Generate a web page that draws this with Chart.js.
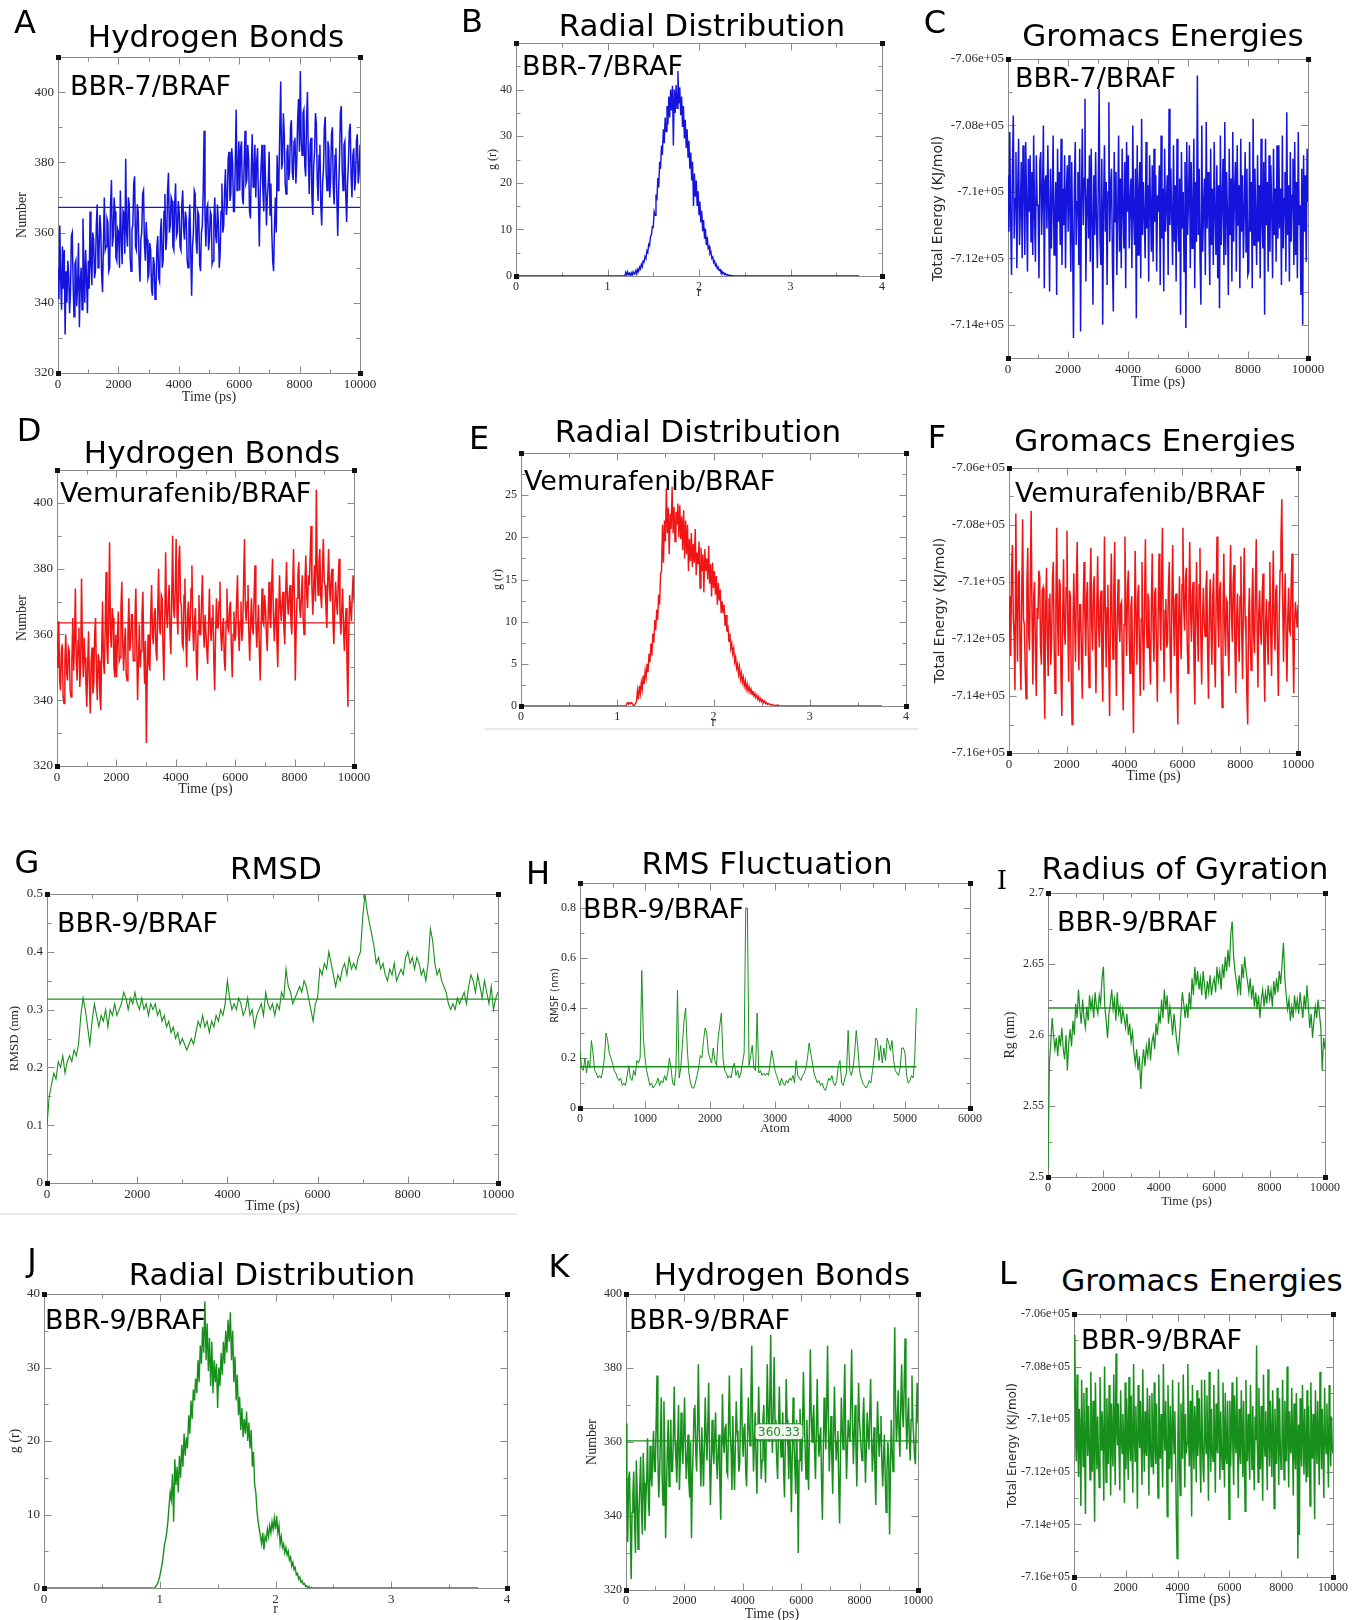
<!DOCTYPE html>
<html>
<head>
<meta charset="utf-8">
<script src="https://cdn.jsdelivr.net/npm/chart.js@4/dist/chart.umd.min.js"></script>
<style>
  body { margin: 0; background: #fff; width: 1365px; height: 1620px; position: relative; overflow: hidden;
         font-family: "DejaVu Sans", Verdana, sans-serif; }
  canvas { position: absolute; }
  .txt { position: absolute; white-space: nowrap; line-height: 1; color: #000; }
  .title { font-size: 31px; transform: translate(-50%, -50%); }
  .letter { font-size: 32px; transform: translate(-50%, -50%); }
  .inner { font-size: 27px; transform: translateY(-50%); }
  .sep { position: absolute; height: 2px; background: #e8e8e8; }
</style>
</head>
<body>
<div class="sep" style="left:485px;top:728px;width:433px"></div>
<div class="sep" style="left:0px;top:1213px;width:517px"></div>
<script>
// ---- tick labels ----
const timeTicks = [0, 2000, 4000, 6000, 8000, 10000];
const rTicks = [0, 1, 2, 3, 4];
const atomTicks = [0, 1000, 2000, 3000, 4000, 5000, 6000];
const hbondTicks = [320, 340, 360, 380, 400];
const energyTicksC = [-714000, -712000, -710000, -708000, -706000];
const energyTicks = [-716000, -714000, -712000, -710000, -708000, -706000];
const rdfTicks40 = [0, 10, 20, 30, 40];
const rdfTicksE = [0, 5, 10, 15, 20, 25];
const rmsdTicks = [0, 0.1, 0.2, 0.3, 0.4, 0.5];
const rmsfTicks = [0, 0.2, 0.4, 0.6, 0.8];
const rgTicks = [2.5, 2.55, 2.6, 2.65, 2.7];

// ---- series ----
// A: hydrogen bonds BBR-7/BRAF, 0-10000 ps
const hbondsBBR7 = [
  350, 341, 362, 347, 338, 356, 344, 355, 331, 349, 340, 352, 348, 337, 343, 359, 360, 345, 336, 351, 352, 339, 345, 357, 333, 346, 350, 338, 364, 351, 340, 355, 347, 337,
  352, 344, 366, 351, 345, 360, 358, 347, 349, 362, 368, 350, 354, 365, 361, 348, 343, 357, 370, 355, 356, 364, 363, 349, 350, 368, 375, 356, 359, 370, 366, 353, 352, 361,
  360, 350, 372, 359, 351, 366, 365, 354, 381, 360, 356, 370, 368, 353, 349, 361, 362, 374, 376, 356, 355, 368, 366, 352, 346, 358, 360, 371, 372, 357, 352, 363, 358, 347,
  348, 357, 355, 344, 342, 353, 351, 341, 343, 356, 359, 347, 346, 360, 364, 350, 352, 366, 371, 355, 358, 372, 377, 360, 362, 370, 369, 356, 355, 368, 374, 359, 360, 369,
  366, 356, 355, 368, 372, 361, 358, 366, 364, 352, 350, 363, 368, 355, 342, 356, 360, 372, 371, 358, 354, 366, 365, 351, 349, 360, 362, 372, 389, 365, 356, 367, 368, 355,
  358, 366, 365, 351, 352, 364, 370, 359, 357, 368, 363, 350, 354, 366, 374, 360, 362, 372, 378, 365, 368, 381, 383, 369, 371, 384, 380, 366, 366, 380, 395, 372, 378, 386,
  372, 384, 386, 370, 368, 380, 389, 374, 375, 385, 381, 366, 364, 378, 388, 373, 377, 385, 370, 380, 384, 369, 356, 372, 379, 385, 372, 366, 385, 374, 362, 370, 374, 383,
  365, 374, 360, 352, 349, 362, 370, 360, 382, 372, 376, 390, 403, 378, 380, 394, 388, 374, 371, 383, 385, 375, 378, 390, 392, 377, 375, 386, 387, 374, 380, 392, 398, 383,
  406, 386, 382, 394, 395, 379, 376, 392, 400, 381, 371, 385, 387, 370, 365, 379, 383, 394, 391, 375, 369, 382, 385, 368, 362, 374, 378, 390, 393, 377, 372, 386, 384, 370,
  375, 388, 390, 373, 368, 382, 384, 370, 359, 372, 381, 394, 396, 378, 372, 385, 386, 371, 363, 374, 380, 389, 391, 376, 370, 382, 384, 372, 375, 386, 388, 374, 377, 385
];
const meanBBR7 = 367.2;

// B: g(r) BBR-7/BRAF, r from 1.15 in 0.01 steps
const rdfStartB = 1.15;
const rdfBBR7 = [
  0, 0, 0, 0, 0,
  0.8, 0.2, 0.9, 0.3, 0.6, 0.1, 0.7, 0.2, 0.9, 0.4,
  0.6, 1.2, 0.5, 1.4, 1.0, 1.9, 1.5, 2.5, 2.0, 3.2,
  3.0, 4.2, 3.8, 5.4, 5.0, 6.8, 6.5, 8.5, 8.8, 10.6,
  10.5, 13.8, 13.0, 17.5, 16.2, 21.0, 19.0, 24.5, 23.0, 28.0,
  26.0, 31.5, 28.5, 34.0, 31.0, 36.5, 32.5, 38.5, 34.0, 40.0,
  35.5, 40.8, 28.0, 40.0, 35.0, 41.0, 36.0, 44.0, 37.0, 40.5,
  34.5, 38.5, 32.0, 36.5, 29.5, 33.5, 27.5, 31.5, 25.5, 29.0,
  23.0, 26.5, 20.5, 24.5, 15.0, 22.0, 17.0, 20.5, 15.0, 18.2,
  13.2, 16.0, 11.5, 14.0, 9.6, 12.0, 8.0, 10.2, 6.6, 8.4,
  6.0, 6.4, 4.8, 5.2, 3.8, 4.1, 2.9, 3.2, 2.2, 2.5,
  1.6, 1.9, 1.2, 1.4, 0.8, 1.0, 0.5, 0.7, 0.3, 0.5,
  0.2, 0.3, 0.1, 0.2, 0.1, 0.1, 0, 0.1, 0, 0,
  0, 0, 0, 0, 0, 0, 0, 0, 0, 0, 0
];
const rdfEnd = 3.75;

// C: total energy BBR-7/BRAF
const energyBBR7 = [
  -709500, -711200, -708200, -710800, -712500, -709300, -707700, -711400, -710200, -708800, -712300, -709900, -708400, -711600, -710500, -709100, -712000, -708600, -709800, -711900, -708500, -710300, -712400, -709000, -710600, -708900, -711500, -709400, -711900, -708300, -710700, -712100, -708900, -710400,
  -710400, -712600, -709100, -708800, -711300, -710100, -708000, -712900, -709700, -709500, -711100, -708600, -710500, -713000, -709300, -711700, -710200, -708300, -711900, -710800, -709700, -713100, -708700, -710900, -709400, -711600, -708400, -712200, -709900, -711000, -708900, -712300, -710000, -709200,
  -711200, -708900, -710600, -712400, -709100, -711500, -714400, -709800, -708500, -711600, -710300, -709400, -712200, -708700, -714200, -710100, -708100, -711000, -709600, -707200, -712700, -710400, -709600, -711400, -708900, -712100, -708700, -710800, -713400, -709500, -711300, -708800, -710900, -712300,
  -709800, -706900, -711500, -712200, -709000, -714000, -710400, -708600, -711200, -709700, -712800, -710000, -707300, -711500, -709800, -709300, -712100, -713600, -708800, -710900, -709400, -712500, -710600, -708300, -711800, -709600, -712300, -708700, -710500, -711700, -709100, -712900, -708500, -710600,
  -708900, -711700, -710200, -709600, -712300, -708000, -710700, -711600, -709300, -713800, -708600, -711900, -710000, -709100, -712600, -707800, -711300, -709700, -710800, -712000, -708500, -711100, -709800, -712700, -708900, -710400, -711800, -709200, -712100, -708700, -710900, -709500, -712400, -710100,
  -710600, -709200, -712800, -708300, -711400, -709900, -713000, -708700, -711200, -710300, -709500, -712500, -707500, -711000, -709300, -710700, -712200, -708600, -711500, -709800, -712700, -708400, -710900, -711800, -709600, -713700, -708800, -711100, -710000, -712400, -709100, -714100, -708500, -711300,
  -710200, -708600, -712300, -709100, -711700, -710500, -708400, -712900, -709700, -711500, -706500, -711300, -709300, -712000, -713400, -708000, -711800, -710400, -709600, -712500, -707900, -711100, -709400, -710800, -712800, -708700, -711600, -709900, -712200, -708500, -710700, -711900, -709200, -712600,
  -709800, -713500, -708300, -711600, -710300, -709000, -712200, -707900, -711900, -709400, -710700, -713100, -708700, -711300, -709600, -712700, -708200, -711500, -710000, -709100, -712400, -708600, -711000, -709800, -712900, -708400, -711200, -709500, -712000, -710600, -708800, -711800, -709300, -712500,
  -712400, -708500, -711200, -709700, -712900, -707800, -711600, -709300, -710800, -712200, -708900, -711500, -709800, -712600, -708400, -710900, -711700, -709100, -713700, -708400, -711000, -709700, -712400, -708900, -711800, -709200, -710500, -712600, -708700, -711300, -709900, -712100, -708600, -711400,
  -708600, -711100, -709900, -712800, -708300, -711700, -710200, -709400, -712400, -707600, -711300, -709800, -712700, -708800, -711500, -710100, -709000, -712200, -708500, -711900, -709700, -712600, -708200, -711000, -710400, -713100, -709300, -714000, -708900, -711200, -709500, -712100, -708700, -710300
];

// D: hydrogen bonds Vemurafenib/BRAF
const hbondsVemu = [
  350, 358, 364, 346, 343, 355, 357, 341, 339, 352, 360, 348, 346, 356, 355, 343, 341, 352, 365, 349, 358, 374, 352, 346, 358, 362, 344, 350, 377, 356, 347, 359, 353, 345,
  338, 350, 361, 345, 336, 352, 356, 342, 345, 360, 365, 348, 340, 354, 352, 341, 337, 355, 370, 352, 348, 362, 379, 356, 351, 366, 388, 360, 356, 368, 365, 350, 347, 360,
  347, 359, 367, 352, 353, 368, 376, 358, 349, 357, 362, 348, 346, 360, 371, 355, 357, 366, 366, 352, 352, 365, 374, 357, 340, 352, 363, 350, 355, 366, 373, 356, 345, 358,
  327, 348, 360, 351, 349, 366, 375, 360, 357, 366, 368, 355, 352, 368, 380, 362, 360, 372, 371, 356, 346, 364, 385, 366, 362, 370, 375, 360, 354, 372, 390, 368, 365, 374,
  389, 366, 360, 382, 387, 370, 369, 357, 356, 372, 377, 360, 350, 366, 370, 358, 362, 374, 381, 362, 355, 364, 368, 352, 346, 361, 372, 360, 360, 370, 378, 362, 356, 366,
  366, 355, 351, 364, 374, 361, 358, 365, 369, 352, 343, 360, 371, 362, 362, 370, 376, 360, 355, 362, 365, 352, 349, 364, 374, 362, 361, 368, 370, 356, 347, 360, 367, 358,
  360, 370, 378, 362, 355, 364, 370, 358, 362, 376, 389, 368, 364, 370, 375, 360, 352, 364, 371, 362, 360, 372, 381, 364, 356, 363, 369, 354, 346, 362, 374, 364, 363, 372,
  368, 360, 355, 366, 376, 365, 362, 375, 383, 366, 358, 365, 371, 358, 350, 366, 378, 368, 364, 370, 373, 362, 357, 372, 382, 370, 366, 372, 375, 364, 360, 374, 386, 370,
  346, 362, 371, 378, 382, 368, 365, 372, 378, 365, 360, 376, 384, 372, 368, 378, 375, 384, 393, 374, 366, 375, 381, 370, 404, 380, 372, 382, 386, 372, 368, 380, 389, 376,
  375, 368, 362, 376, 386, 374, 370, 378, 380, 364, 357, 368, 376, 370, 366, 376, 383, 366, 360, 368, 374, 362, 355, 364, 368, 352, 338, 360, 372, 368, 364, 372, 378, 370
];
const meanVemu = 363.5;

// E: g(r) Vemurafenib/BRAF, r from 1.05 in 0.01 steps
const rdfStartE = 1.05;
const rdfVemu = [
  0, 0, 0, 0, 0,
  0.3, 0.4, 0.2, 0.4, 0.3, 0.4, 0.2, 0.0, 0.1, 0.3,
  0.5, 1.8, 0.8, 2.4, 1.5, 2.8, 2.0, 3.6, 2.6, 4.2,
  3.4, 5.0, 4.0, 6.2, 5.2, 7.4, 6.0, 8.6, 7.5, 10.2,
  9.0, 11.4, 10.2, 13.2, 12.0, 15.6, 16.0, 21.5, 17.0, 22.0,
  19.5, 25.8, 20.5, 23.5, 18.0, 22.8, 21.0, 26.0, 20.5, 23.6,
  19.5, 23.0, 21.5, 24.0, 20.0, 23.8, 19.8, 22.5, 18.5, 23.2,
  17.5, 22.0, 18.0, 21.5, 16.0, 19.8, 17.2, 20.5, 16.5, 19.2,
  17.0, 21.0, 15.5, 18.2, 16.8, 19.5, 14.0, 18.8, 16.0, 18.0,
  13.5, 18.6, 16.0, 17.5, 15.0, 19.0, 14.5, 16.8, 13.0, 17.0,
  14.0, 16.0, 13.2, 15.4, 12.0, 14.6, 12.5, 13.8, 11.0, 12.4,
  11.0, 12.0, 9.5, 10.8, 8.8, 9.6, 7.6, 8.6, 6.8, 7.4,
  6.2, 6.8, 5.2, 5.8, 4.5, 5.0, 3.8, 4.6, 3.2, 3.9,
  2.8, 3.4, 2.4, 3.0, 2.0, 2.6, 1.8, 2.3, 1.6, 2.0,
  1.4, 1.8, 1.2, 1.5, 1.0, 1.3, 0.8, 1.1, 0.6, 0.9,
  0.5, 0.7, 0.4, 0.6, 0.3, 0.4, 0.2, 0.3, 0.2, 0.2,
  0.1, 0.2, 0.1, 0.1, 0.0, 0.1, 0.0, 0.1, 0.0, 0.0,
  0, 0, 0, 0, 0, 0, 0, 0, 0, 0, 0
];

// F: total energy Vemurafenib/BRAF
const energyVemu = [
  -710500, -711800, -712600, -709600, -708700, -711200, -711900, -713800, -707600, -710900, -712800, -709800, -709600, -712500, -713800, -710400, -707800, -711300, -711500, -713000, -714100, -710100, -708800, -711800, -712400, -709900, -707500, -711200, -713600, -710500, -710000, -712400, -714000, -710900,
  -711300, -709600, -709800, -712300, -712900, -710300, -710200, -713100, -714800, -711000, -709500, -712000, -713300, -710600, -710400, -712900, -712100, -709900, -709300, -712200, -713900, -710800, -708100, -711400, -712600, -709900, -710100, -713300, -714700, -711100, -709200, -711800, -712200, -710200,
  -708200, -711500, -713500, -710300, -710500, -713400, -715000, -711600, -709700, -711400, -712800, -710100, -708600, -711800, -713100, -710800, -710800, -712700, -714100, -710900, -709300, -711200, -712600, -710600, -710000, -712400, -713700, -710300, -708800, -711500, -712400, -710200, -709800, -712000,
  -713900, -710900, -709100, -711500, -712300, -710700, -710300, -712800, -714200, -711300, -708400, -711000, -713000, -710900, -710100, -712600, -714700, -711200, -709000, -711400, -712700, -710200, -708600, -711900, -714000, -711200, -709900, -711400, -712100, -710800, -710700, -713000, -714500, -711500,
  -708400, -711000, -712600, -710200, -709600, -711900, -713200, -710900, -710500, -713000, -715300, -711800, -708900, -711200, -712900, -710500, -710100, -712400, -714000, -711300, -709300, -712000, -713800, -710700, -708500, -711300, -712300, -710400, -710700, -712600, -713600, -710800, -709000, -711600,
  -712800, -710400, -710200, -712500, -714200, -711100, -709000, -711100, -712400, -709900, -708100, -711800, -713500, -711000, -710600, -712300, -712100, -710200, -709300, -712400, -713900, -710700, -708700, -711200, -712600, -710600, -710400, -713300, -715000, -711400, -709800, -711800, -712700, -710100,
  -708100, -710900, -711700, -709900, -709500, -712100, -713200, -710600, -708600, -711000, -712100, -710400, -710000, -712800, -714300, -711200, -709300, -711500, -712800, -710100, -708800, -711900, -713600, -711300, -710200, -711400, -711900, -710200, -709600, -712500, -714100, -711000, -709900, -711700,
  -712900, -710500, -709700, -712400, -713700, -710600, -708400, -711300, -712300, -710300, -710000, -712800, -714400, -711100, -709000, -711500, -712600, -710600, -710700, -712400, -713300, -710200, -708700, -711200, -712100, -710000, -709400, -712300, -713900, -711300, -710400, -711900, -712800, -710500,
  -709100, -711800, -713400, -710600, -708800, -711200, -712000, -713900, -715000, -711300, -710200, -712200, -713100, -710700, -709500, -711900, -712500, -710300, -708500, -711600, -713700, -711100, -710300, -711800, -712200, -710400, -709700, -712600, -714200, -711500, -710600, -711900, -712900, -710700,
  -709300, -711800, -713300, -710900, -708900, -711500, -712400, -710300, -710100, -712500, -714000, -711200, -709600, -708600, -707100, -710400, -712800, -711000, -709700, -711900, -713500, -711300, -710200, -711700, -711800, -710100, -709000, -712000, -713900, -711400, -710700, -711200, -711600, -710800
];

// G: RMSD BBR-9/BRAF, every 50 ps
const rmsdBBR9 = [
  0.10, 0.15, 0.17, 0.19, 0.18, 0.21, 0.20, 0.22, 0.19, 0.21, 0.22, 0.21, 0.23, 0.22, 0.24, 0.29, 0.32, 0.30, 0.27, 0.24,
  0.28, 0.31, 0.29, 0.27, 0.29, 0.28, 0.30, 0.27, 0.30, 0.29, 0.31, 0.29, 0.30, 0.31, 0.33, 0.32, 0.30, 0.32, 0.31, 0.33,
  0.31, 0.30, 0.32, 0.30, 0.31, 0.29, 0.31, 0.30, 0.31, 0.29, 0.30, 0.28, 0.29, 0.27, 0.28, 0.26, 0.27, 0.25, 0.26, 0.24,
  0.25, 0.24, 0.23, 0.24, 0.25, 0.24, 0.26, 0.28, 0.27, 0.29, 0.27, 0.28, 0.26, 0.28, 0.27, 0.29, 0.28, 0.30, 0.29, 0.31,
  0.35, 0.32, 0.30, 0.31, 0.30, 0.32, 0.31, 0.29, 0.30, 0.32, 0.29, 0.30, 0.27, 0.29, 0.30, 0.31, 0.29, 0.33, 0.31, 0.30,
  0.31, 0.29, 0.31, 0.30, 0.33, 0.32, 0.37, 0.34, 0.33, 0.31, 0.32, 0.33, 0.34, 0.33, 0.35, 0.34, 0.32, 0.30, 0.28, 0.31,
  0.32, 0.37, 0.36, 0.38, 0.37, 0.40, 0.38, 0.36, 0.34, 0.36, 0.35, 0.37, 0.38, 0.36, 0.39, 0.37, 0.38, 0.37, 0.39, 0.40,
  0.46, 0.50, 0.47, 0.45, 0.43, 0.41, 0.38, 0.39, 0.37, 0.38, 0.36, 0.35, 0.37, 0.36, 0.38, 0.35, 0.36, 0.37, 0.36, 0.39,
  0.40, 0.38, 0.39, 0.37, 0.39, 0.38, 0.36, 0.37, 0.35, 0.38, 0.44, 0.42, 0.38, 0.36, 0.37, 0.35, 0.34, 0.33, 0.31, 0.30,
  0.31, 0.30, 0.32, 0.31, 0.32, 0.33, 0.31, 0.34, 0.36, 0.35, 0.33, 0.36, 0.34, 0.32, 0.35, 0.33, 0.31, 0.34, 0.30, 0.32,
  0.33
];
const meanRmsd = 0.318;

// H: RMSF per atom BBR-9/BRAF, every 25 atoms
const rmsfBBR9 = [
  0.23, 0.16, 0.15, 0.20, 0.14, 0.19, 0.16, 0.27, 0.22, 0.15,
  0.14, 0.12, 0.13, 0.12, 0.15, 0.20, 0.30, 0.27, 0.22, 0.20,
  0.18, 0.15, 0.14, 0.12, 0.11, 0.12, 0.09, 0.10, 0.09, 0.13,
  0.17, 0.12, 0.11, 0.15, 0.13, 0.19, 0.18, 0.20, 0.55, 0.28,
  0.20, 0.15, 0.12, 0.09, 0.10, 0.08, 0.09, 0.10, 0.12, 0.09,
  0.11, 0.10, 0.13, 0.11, 0.14, 0.20, 0.16, 0.10, 0.09, 0.15,
  0.47, 0.12, 0.16, 0.25, 0.35, 0.40, 0.24, 0.14, 0.10, 0.08,
  0.08, 0.10, 0.13, 0.16, 0.21, 0.20, 0.27, 0.32, 0.30, 0.22,
  0.20, 0.18, 0.24, 0.19, 0.17, 0.28, 0.33, 0.38, 0.20, 0.15,
  0.14, 0.12, 0.13, 0.12, 0.16, 0.18, 0.13, 0.15, 0.12, 0.14,
  0.18, 0.22, 0.80, 0.80, 0.17, 0.21, 0.25, 0.16, 0.15, 0.38,
  0.14, 0.15, 0.13, 0.14, 0.13, 0.14, 0.13, 0.18, 0.23, 0.19,
  0.15, 0.13, 0.11, 0.09, 0.12, 0.10, 0.09, 0.11, 0.10, 0.12,
  0.11, 0.13, 0.10, 0.19, 0.13, 0.12, 0.11, 0.13, 0.14, 0.16,
  0.20, 0.26, 0.22, 0.18, 0.14, 0.12, 0.10, 0.11, 0.09, 0.10,
  0.08, 0.07, 0.09, 0.12, 0.11, 0.13, 0.10, 0.09, 0.11, 0.17,
  0.19, 0.10, 0.09, 0.12, 0.14, 0.31, 0.15, 0.13, 0.16, 0.22,
  0.31, 0.24, 0.15, 0.12, 0.10, 0.09, 0.08, 0.09, 0.11, 0.10,
  0.15, 0.20, 0.28, 0.27, 0.19, 0.25, 0.18, 0.24, 0.19, 0.28,
  0.26, 0.23, 0.27, 0.19, 0.15, 0.14, 0.13, 0.16, 0.24, 0.24,
  0.22, 0.13, 0.10, 0.11, 0.13, 0.12, 0.20, 0.40
];
const atomStep = 25;
const meanRmsf = 0.165;

// I: radius of gyration BBR-9/BRAF, every 50 ps
const rgBBR9 = [
  2.505, 2.580, 2.595, 2.612, 2.600, 2.590, 2.598, 2.585, 2.600, 2.592, 2.605, 2.590, 2.583, 2.600, 2.575, 2.595, 2.604, 2.592, 2.610, 2.600,
  2.622, 2.612, 2.632, 2.618, 2.608, 2.625, 2.612, 2.605, 2.620, 2.610, 2.628, 2.618, 2.625, 2.612, 2.630, 2.620, 2.615, 2.628, 2.622, 2.640,
  2.648, 2.620, 2.610, 2.598, 2.615, 2.622, 2.632, 2.618, 2.625, 2.610, 2.630, 2.615, 2.620, 2.608, 2.618, 2.612, 2.605, 2.615, 2.600, 2.608,
  2.595, 2.602, 2.588, 2.580, 2.590, 2.575, 2.585, 2.562, 2.580, 2.590, 2.578, 2.592, 2.585, 2.598, 2.582, 2.595, 2.600, 2.590, 2.608, 2.600,
  2.615, 2.608, 2.625, 2.612, 2.632, 2.618, 2.628, 2.608, 2.620, 2.612, 2.600, 2.615, 2.605, 2.595, 2.588, 2.600, 2.615, 2.630, 2.622, 2.612,
  2.622, 2.612, 2.630, 2.618, 2.640, 2.628, 2.648, 2.635, 2.645, 2.632, 2.640, 2.628, 2.645, 2.635, 2.625, 2.638, 2.630, 2.642, 2.628, 2.636,
  2.640, 2.630, 2.648, 2.638, 2.645, 2.632, 2.650, 2.640, 2.655, 2.645, 2.660, 2.648, 2.672, 2.680, 2.655, 2.645, 2.638, 2.630, 2.642, 2.628,
  2.650, 2.640, 2.655, 2.645, 2.638, 2.630, 2.640, 2.625, 2.635, 2.620, 2.630, 2.618, 2.628, 2.612, 2.625, 2.632, 2.620, 2.630, 2.622, 2.635,
  2.625, 2.632, 2.620, 2.638, 2.628, 2.640, 2.630, 2.645, 2.636, 2.650, 2.665, 2.640, 2.628, 2.618, 2.625, 2.610, 2.620, 2.612, 2.628, 2.618,
  2.625, 2.615, 2.630, 2.620, 2.612, 2.628, 2.618, 2.635, 2.620, 2.605, 2.615, 2.598, 2.610, 2.620, 2.612, 2.625, 2.615, 2.605, 2.575, 2.598,
  2.590
];
const meanRg = 2.619;

// J: g(r) BBR-9/BRAF, r from 0.90 in 0.01 steps
const rdfStartJ = 0.90;
const rdfBBR9 = [
  0, 0, 0, 0, 0, -0.2, 0.1, 0.3, 0.6, 1.0,
  1.6, 2.4, 3.2, 4.4, 5.8, 6.5, 7.5, 9.0, 11.0, 13.0,
  12.0, 15.5, 9.0, 17.5, 14.0, 16.5, 13.0, 18.0, 15.0, 19.5,
  16.5, 21.0, 18.0, 20.5, 19.0, 23.5, 21.0, 25.5, 23.0, 27.0,
  25.5, 28.5, 26.5, 31.0, 28.0, 33.0, 30.5, 35.5, 32.0, 39.0,
  31.0, 36.0, 29.5, 34.0, 27.5, 33.5, 26.5, 31.0, 28.0, 30.5,
  24.5, 30.0, 27.5, 32.0, 29.0, 33.5, 30.5, 35.0, 32.0, 36.5,
  33.5, 37.5, 31.0, 35.0, 28.0, 31.5, 25.5, 29.0, 23.5, 26.0,
  21.5, 24.5, 20.5, 23.0, 21.0, 24.0, 20.0, 22.5, 19.0, 21.5,
  16.5, 18.5, 14.0, 13.0, 10.5, 9.0, 8.0, 7.0, 6.0, 7.5,
  5.2, 7.0, 6.5, 8.0, 7.0, 8.5, 7.5, 9.0, 8.0, 9.5,
  8.0, 9.8, 7.5, 8.5, 6.0, 7.0, 5.5, 6.0, 4.8, 5.5,
  4.5, 5.0, 3.8, 4.2, 3.0, 3.5, 2.5, 2.8, 1.8, 2.0,
  1.2, 1.5, 0.8, 1.0, 0.5, 0.6, 0.2, 0.3, -0.1, 0.2,
  -0.3, 0.1, 0, 0, 0, 0, 0, 0, 0, 0, 0
];

// K: hydrogen bonds BBR-9/BRAF
const hbondsBBR9 = [
  365, 345, 333, 350, 352, 338, 323, 341, 346, 352, 338, 330, 355, 346, 331, 340, 348, 356, 341, 335, 357, 349, 336, 344, 350, 361, 344, 340, 359, 351, 348, 357, 363, 352,
  352, 365, 378, 356, 345, 351, 362, 372, 350, 343, 371, 358, 334, 347, 358, 366, 348, 355, 366, 352, 352, 362, 375, 360, 355, 349, 360, 370, 347, 355, 368, 359, 354, 363,
  372, 358, 350, 356, 362, 349, 345, 360, 334, 350, 358, 369, 370, 357, 352, 364, 381, 363, 356, 348, 364, 356, 348, 360, 372, 361, 355, 365, 376, 356, 343, 354, 366, 358,
  354, 362, 368, 355, 350, 358, 362, 349, 339, 356, 373, 360, 357, 364, 365, 352, 351, 365, 378, 362, 358, 347, 367, 355, 347, 360, 371, 363, 360, 352, 354, 368, 380, 362,
  356, 364, 365, 352, 348, 360, 372, 364, 359, 372, 386, 366, 352, 360, 368, 355, 346, 361, 375, 364, 361, 350, 355, 366, 370, 356, 349, 363, 381, 368, 360, 372, 389, 364,
  357, 370, 383, 366, 362, 355, 350, 363, 375, 364, 356, 362, 368, 352, 345, 360, 377, 366, 359, 350, 364, 356, 341, 356, 372, 360, 353, 346, 366, 352, 330, 355, 369, 360,
  352, 365, 379, 366, 358, 350, 366, 356, 347, 365, 385, 368, 360, 366, 370, 357, 350, 364, 377, 362, 356, 360, 364, 350, 339, 356, 372, 365, 358, 370, 386, 365, 352, 360,
  367, 355, 346, 362, 375, 363, 355, 360, 363, 348, 338, 356, 372, 364, 358, 370, 381, 362, 350, 358, 366, 362, 360, 372, 385, 365, 354, 362, 370, 358, 348, 362, 376, 366,
  362, 358, 355, 366, 372, 360, 349, 358, 368, 362, 358, 368, 377, 362, 352, 358, 364, 352, 343, 358, 371, 363, 356, 362, 367, 355, 348, 356, 362, 350, 341, 352, 360, 356,
  335, 352, 366, 358, 352, 372, 391, 370, 360, 366, 374, 362, 356, 370, 381, 368, 364, 376, 388, 368, 358, 366, 372, 360, 355, 366, 378, 366, 361, 356, 354, 366, 376, 365
];
const meanBBR9 = 360.33;
const meanLabelTimeK = 5240;

// L: total energy BBR-9/BRAF
const energyBBR9 = [
  -709200, -706800, -710300, -711600, -708300, -710900, -712200, -709600, -710700, -713300, -708500, -710400, -711800, -709000, -711200, -713600, -708800, -710100, -711400, -709500, -710800, -712300, -708200, -710600, -712000, -709300, -711100, -713900, -708600, -710300, -711900, -709900, -711500, -712600,
  -708400, -710200, -711200, -709700, -710900, -713100, -708000, -710500, -712400, -709200, -710800, -711700, -708700, -710400, -712900, -709400, -711000, -711800, -708300, -710600, -712500, -707500, -710300, -711000, -709400, -711300, -712700, -708900, -710600, -711300, -709800, -710900, -713200, -708600,
  -711900, -709200, -710700, -712300, -708400, -710800, -711600, -709100, -711200, -712800, -707900, -710500, -711600, -709500, -711100, -713400, -708700, -710300, -711100, -709300, -710800, -712500, -708100, -710600, -712000, -709700, -711200, -711400, -708800, -710400, -712900, -709100, -710900, -711800,
  -709000, -710700, -712100, -708600, -710900, -711700, -709400, -711100, -713000, -708300, -710500, -711500, -709800, -711000, -712600, -707900, -710400, -711200, -709300, -710800, -713700, -708700, -710600, -711900, -709500, -711000, -712400, -708500, -710300, -711300, -709700, -711600, -713800, -715300,
  -710800, -708600, -711700, -712900, -709400, -710600, -711500, -708300, -710200, -712600, -709800, -711300, -710900, -707900, -710700, -711800, -709300, -711000, -713700, -708700, -710500, -711900, -709500, -710200, -712400, -708900, -711400, -710600, -709200, -711600, -712800, -708500, -710700, -711900,
  -712400, -708500, -710600, -711300, -709100, -710900, -713100, -708200, -710400, -712000, -709600, -711200, -711600, -708700, -710800, -712800, -709400, -711000, -711300, -708100, -710300, -712300, -709700, -711100, -711900, -708600, -710700, -712600, -709000, -711400, -711700, -709300, -711000, -713800,
  -709300, -711800, -710400, -708600, -711200, -712500, -709100, -710700, -711300, -708400, -710900, -713000, -709600, -711100, -711700, -708900, -710600, -712200, -709300, -711300, -713500, -708500, -710800, -711600, -709800, -711000, -712300, -708700, -710500, -711900, -709500, -711400, -712700, -709900,
  -710800, -707200, -711000, -712400, -708800, -710600, -711900, -709500, -711200, -713100, -708300, -710700, -711400, -709700, -711000, -712700, -708100, -710500, -711800, -709300, -710900, -712200, -708900, -710600, -713400, -709600, -711100, -711700, -708800, -710400, -712500, -709200, -711000, -711900,
  -711700, -708500, -710600, -712300, -709300, -710900, -711600, -708000, -710400, -712600, -709700, -711100, -711300, -708800, -710700, -712900, -709400, -711200, -711900, -709000, -710600, -715300, -710200, -714400, -709200, -711000, -711800, -708700, -710500, -712100, -709600, -711300, -712400, -708900,
  -712200, -709500, -710900, -713300, -708600, -710700, -711500, -709800, -711100, -713800, -708900, -710600, -711700, -709300, -711000, -712500, -708200, -710500, -711900, -709600, -711200, -713000, -708800, -710700, -711300, -709400, -710900, -712600, -708700, -710400, -711800, -709900, -711100, -711300
];

const BLUE = '#1414dc', RED = '#f01414', GREEN = '#17901b';
const SERIF = '"Liberation Serif", "Times New Roman", serif';
const SANS = '"DejaVu Sans", Verdana, sans-serif';

// sample positions: evenly spaced frames
function evenly(n, from, to) {
  return Array.from({ length: n }, (_, i) => from + i * (to - from) / (n - 1));
}
function stepped(n, from, step) {
  return Array.from({ length: n }, (_, i) => +(from + i * step).toFixed(4));
}
function pairs(xs, ys) {
  return ys.map((y, i) => ({ x: xs[i], y: y }));
}
function rdfPoints(start, ys) {
  const pts = pairs(stepped(ys.length, start, 0.01), ys);
  return [{ x: 0, y: 0 }, ...pts, { x: rdfEnd, y: 0 }];
}
const energyFmt = v => (v / 1e5).toFixed(2).replace(/0$/, '') + 'e+05';

const panels = [
  { letter: 'A', letterPos: [25, 22], title: 'Hydrogen Bonds', titlePos: [216, 36], inner: 'BBR-7/BRAF', innerPos: [70, 85],
    box: [58, 57, 360, 373], yTitleX: 22, xTitleY: 398, tickFont: 13, lineWidth: 1.5,
    x: { min: 0, max: 10000, ticks: timeTicks, minor: 1000, title: 'Time (ps)', font: 14 },
    y: { min: 320, max: 410, ticks: hbondTicks, minor: 10, title: 'Number', font: 14 },
    color: BLUE, points: pairs(evenly(hbondsBBR7.length, 0, 10000), hbondsBBR7), mean: meanBBR7 },
  { letter: 'B', letterPos: [472, 21], title: 'Radial Distribution', titlePos: [702, 25], inner: 'BBR-7/BRAF', innerPos: [522, 65],
    box: [516, 43, 882, 276], yTitleX: 493, xTitleY: 293, tickFont: 12, lineWidth: 1.4,
    x: { min: 0, max: 4, ticks: rTicks, minor: 0.5, title: 'r', font: 12 },
    y: { min: 0, max: 50, ticks: rdfTicks40, minor: 5, title: 'g (r)', font: 12 },
    color: BLUE, points: rdfPoints(rdfStartB, rdfBBR7) },
  { letter: 'C', letterPos: [935, 22], title: 'Gromacs Energies', titlePos: [1163, 35], inner: 'BBR-7/BRAF', innerPos: [1015, 77],
    box: [1008, 59, 1308, 358], yTitleX: 938, xTitleY: 383, tickFont: 13, lineWidth: 1.5,
    x: { min: 0, max: 10000, ticks: timeTicks, minor: 1000, title: 'Time (ps)', font: 14 },
    y: { min: -715000, max: -706000, ticks: energyTicksC, minor: 1000, title: 'Total Energy (KJ/mol)', font: 14, sans: true, fmt: energyFmt },
    color: BLUE, points: pairs(evenly(energyBBR7.length, 0, 10000), energyBBR7) },
  { letter: 'D', letterPos: [29, 430], title: 'Hydrogen Bonds', titlePos: [212, 452], inner: 'Vemurafenib/BRAF', innerPos: [60, 492],
    box: [57, 470, 354, 766], yTitleX: 22, xTitleY: 790, tickFont: 13, lineWidth: 1.5,
    x: { min: 0, max: 10000, ticks: timeTicks, minor: 1000, title: 'Time (ps)', font: 14 },
    y: { min: 320, max: 410, ticks: hbondTicks, minor: 10, title: 'Number', font: 14 },
    color: RED, points: pairs(evenly(hbondsVemu.length, 0, 10000), hbondsVemu), mean: meanVemu },
  { letter: 'E', letterPos: [479, 438], title: 'Radial Distribution', titlePos: [698, 431], inner: 'Vemurafenib/BRAF', innerPos: [524, 480],
    box: [521, 453, 906, 706], yTitleX: 498, xTitleY: 723, tickFont: 12, lineWidth: 1.4,
    x: { min: 0, max: 4, ticks: rTicks, minor: 0.5, title: 'r', font: 12 },
    y: { min: 0, max: 30, ticks: rdfTicksE, minor: 2.5, title: 'g (r)', font: 12 },
    color: RED, points: rdfPoints(rdfStartE, rdfVemu) },
  { letter: 'F', letterPos: [937, 437], title: 'Gromacs Energies', titlePos: [1155, 440], inner: 'Vemurafenib/BRAF', innerPos: [1015, 492],
    box: [1009, 468, 1298, 753], yTitleX: 940, xTitleY: 777, tickFont: 13, lineWidth: 1.5,
    x: { min: 0, max: 10000, ticks: timeTicks, minor: 1000, title: 'Time (ps)', font: 14 },
    y: { min: -716000, max: -706000, ticks: energyTicks, minor: 1000, title: 'Total Energy (KJ/mol)', font: 14, sans: true, fmt: energyFmt },
    color: RED, points: pairs(evenly(energyVemu.length, 0, 10000), energyVemu) },
  { letter: 'G', letterPos: [27, 862], title: 'RMSD', titlePos: [276, 868], inner: 'BBR-9/BRAF', innerPos: [57, 922],
    box: [47, 894, 498, 1183], yTitleX: 15, xTitleY: 1207, tickFont: 13, lineWidth: 1.1,
    x: { min: 0, max: 10000, ticks: timeTicks, minor: 1000, title: 'Time (ps)', font: 14 },
    y: { min: 0, max: 0.5, ticks: rmsdTicks, minor: 0.05, title: 'RMSD (nm)', font: 13 },
    color: GREEN, points: pairs(stepped(rmsdBBR9.length, 0, 50), rmsdBBR9), mean: meanRmsd },
  { letter: 'H', letterPos: [538, 873], title: 'RMS Fluctuation', titlePos: [767, 863], inner: 'BBR-9/BRAF', innerPos: [583, 908],
    box: [580, 883, 970, 1108], yTitleX: 555, xTitleY: 1128, tickFont: 12, lineWidth: 1,
    x: { min: 0, max: 6000, ticks: atomTicks, minor: 500, title: 'Atom', font: 13 },
    y: { min: 0, max: 0.9, ticks: rmsfTicks, minor: 0.1, title: 'RMSF (nm)', font: 10, sans: true },
    color: GREEN, points: pairs(stepped(rmsfBBR9.length, 0, atomStep), rmsfBBR9), mean: meanRmsf },
  { letter: 'I', letterPos: [1002, 880], letterSerif: true, title: 'Radius of Gyration', titlePos: [1185, 868], inner: 'BBR-9/BRAF', innerPos: [1057, 921],
    box: [1048, 893, 1325, 1177], yTitleX: 1010, xTitleY: 1201, tickFont: 12, lineWidth: 1.2,
    x: { min: 0, max: 10000, ticks: timeTicks, minor: 1000, title: 'Time (ps)', font: 13 },
    y: { min: 2.5, max: 2.7, ticks: rgTicks, minor: 0.025, title: 'Rg (nm)', font: 14 },
    color: GREEN, points: pairs(stepped(rgBBR9.length, 0, 50), rgBBR9), mean: meanRg },
  { letter: 'J', letterPos: [32, 1260], title: 'Radial Distribution', titlePos: [272, 1274], inner: 'BBR-9/BRAF', innerPos: [45, 1319],
    box: [44, 1294, 507, 1588], yTitleX: 15, xTitleY: 1610, tickFont: 13, lineWidth: 1.4,
    x: { min: 0, max: 4, ticks: rTicks, minor: 0.5, title: 'r', font: 14 },
    y: { min: 0, max: 40, ticks: rdfTicks40, minor: 5, title: 'g (r)', font: 14 },
    color: GREEN, points: rdfPoints(rdfStartJ, rdfBBR9) },
  { letter: 'K', letterPos: [559, 1266], title: 'Hydrogen Bonds', titlePos: [782, 1274], inner: 'BBR-9/BRAF', innerPos: [629, 1319],
    box: [626, 1294, 918, 1590], yTitleX: 592, xTitleY: 1615, tickFont: 12, lineWidth: 1.5,
    x: { min: 0, max: 10000, ticks: timeTicks, minor: 1000, title: 'Time (ps)', font: 14 },
    y: { min: 320, max: 400, ticks: hbondTicks, minor: 10, title: 'Number', font: 14 },
    color: GREEN, points: pairs(evenly(hbondsBBR9.length, 0, 10000), hbondsBBR9), mean: meanBBR9,
    meanLabel: { text: '360.33', x: meanLabelTimeK } },
  { letter: 'L', letterPos: [1008, 1273], title: 'Gromacs Energies', titlePos: [1202, 1280], inner: 'BBR-9/BRAF', innerPos: [1081, 1339],
    box: [1074, 1314, 1333, 1577], yTitleX: 1013, xTitleY: 1600, tickFont: 12, lineWidth: 1.5,
    x: { min: 0, max: 10000, ticks: timeTicks, minor: 1000, title: 'Time (ps)', font: 14 },
    y: { min: -716000, max: -706000, ticks: energyTicks, minor: 1000, title: 'Total Energy (KJ/mol)', font: 12, sans: true, fmt: energyFmt },
    color: GREEN, points: pairs(evenly(energyBBR9.length, 0, 10000), energyBBR9) }
];

// xmgrace-like frame: inward major/minor ticks on all four sides + corner markers
function gracePlugin(p) {
  const isMajor = (list, v, span) => list.some(t => Math.abs(t - v) < span * 1e-6);
  return {
    id: 'grace' + p.letter,
    beforeDatasetsDraw(chart) {
      const { ctx, chartArea: a, scales: { x, y } } = chart;
      const L = Math.round(a.left) + 0.5, R = Math.round(a.right) + 0.5;
      const T = Math.round(a.top) + 0.5, B = Math.round(a.bottom) + 0.5;
      ctx.save();
      ctx.strokeStyle = '#8a8a8a';
      ctx.lineWidth = 1;
      ctx.strokeRect(L, T, R - L, B - T);
      ctx.beginPath();
      const nx = Math.round((p.x.max - p.x.min) / p.x.minor);
      for (let i = 0; i <= nx; i++) {
        const v = p.x.min + i * p.x.minor;
        const px = Math.round(x.getPixelForValue(v)) + 0.5;
        const len = isMajor(p.x.ticks, v, p.x.max - p.x.min) ? 7 : 4;
        ctx.moveTo(px, B); ctx.lineTo(px, B - len);
        ctx.moveTo(px, T); ctx.lineTo(px, T + len);
      }
      const ny = Math.round((p.y.max - p.y.min) / p.y.minor);
      for (let i = 0; i <= ny; i++) {
        const v = p.y.min + i * p.y.minor;
        const py = Math.round(y.getPixelForValue(v)) + 0.5;
        const len = isMajor(p.y.ticks, v, p.y.max - p.y.min) ? 7 : 4;
        ctx.moveTo(L, py); ctx.lineTo(L + len, py);
        ctx.moveTo(R, py); ctx.lineTo(R - len, py);
      }
      ctx.stroke();
      ctx.restore();
    },
    afterDraw(chart) {
      const { ctx, chartArea: a, scales: { x, y } } = chart;
      ctx.save();
      ctx.fillStyle = '#111';
      [[a.left, a.top], [a.right, a.top], [a.left, a.bottom], [a.right, a.bottom]].forEach(([cx, cy]) => {
        ctx.fillRect(Math.round(cx) - 2, Math.round(cy) - 2, 5, 5);
      });
      if (p.meanLabel) {
        const px = x.getPixelForValue(p.meanLabel.x);
        const py = y.getPixelForValue(p.mean) - 9;
        ctx.font = '12px ' + SANS;
        const w = ctx.measureText(p.meanLabel.text).width + 6;
        ctx.fillStyle = 'rgba(255,255,255,0.9)';
        ctx.strokeStyle = p.color;
        ctx.lineWidth = 1;
        ctx.beginPath();
        ctx.roundRect(px - w / 2, py - 8, w, 16, 3);
        ctx.fill();
        ctx.stroke();
        ctx.fillStyle = '#2f8a2f';
        ctx.textAlign = 'center';
        ctx.textBaseline = 'middle';
        ctx.fillText(p.meanLabel.text, px, py + 1);
      }
      ctx.restore();
    }
  };
}

function axisOptions(ax, tickFont, fitSize, horizontal) {
  return {
    type: 'linear',
    min: ax.min,
    max: ax.max,
    grid: { display: false, drawTicks: false },
    border: { display: false },
    afterBuildTicks: s => { s.ticks = ax.ticks.map(v => ({ value: v })); },
    afterFit: s => { if (horizontal) s.height = fitSize; else s.width = fitSize; },
    ticks: {
      autoSkip: false, maxRotation: 0, padding: 4, color: '#2a2a2a',
      font: { family: SERIF, size: tickFont },
      callback: v => ax.fmt ? ax.fmt(v) : String(v)
    },
    title: {
      display: true, text: ax.title, color: '#2a2a2a', padding: 0,
      font: { family: ax.sans ? SANS : SERIF, size: ax.font }
    }
  };
}

function makePanel(p) {
  const [l, t, r, b] = p.box;
  const padT = 14, padR = 26;
  const left = Math.round(p.yTitleX - p.y.font * 0.6);
  const top = t - padT;
  const right = r + padR;
  const bottom = Math.round(p.xTitleY + p.x.font * 0.6);
  const cv = document.createElement('canvas');
  cv.width = right - left;
  cv.height = bottom - top;
  cv.style.left = left + 'px';
  cv.style.top = top + 'px';
  document.body.appendChild(cv);

  const datasets = [{
    data: p.points, borderColor: p.color, borderWidth: p.lineWidth, pointRadius: 0, tension: 0, fill: false
  }];
  if (p.mean !== undefined) {
    const xs = p.points.map(q => q.x);
    datasets.push({
      data: [{ x: Math.min(...xs), y: p.mean }, { x: Math.max(...xs), y: p.mean }],
      borderColor: p.color, borderWidth: 1.3, pointRadius: 0, fill: false
    });
  }

  new Chart(cv, {
    type: 'line',
    data: { datasets },
    options: {
      responsive: false,
      animation: false,
      events: [],
      parsing: false,
      layout: { padding: { top: padT, right: padR, left: 0, bottom: 0 } },
      plugins: { legend: { display: false }, tooltip: { enabled: false } },
      scales: {
        x: axisOptions(p.x, p.tickFont, bottom - b, true),
        y: axisOptions(p.y, p.tickFont, l - left, false)
      }
    },
    plugins: [gracePlugin(p)]
  });
}

function addText(cls, text, pos, extra) {
  const d = document.createElement('div');
  d.className = 'txt ' + cls;
  d.textContent = text;
  d.style.left = pos[0] + 'px';
  d.style.top = pos[1] + 'px';
  if (extra) Object.assign(d.style, extra);
  document.body.appendChild(d);
}

panels.forEach(makePanel);
panels.forEach(p => {
  addText('title', p.title, p.titlePos);
  addText('letter', p.letter, p.letterPos, p.letterSerif ? { fontFamily: '"DejaVu Serif", serif', fontSize: '26px' } : null);
  addText('inner', p.inner, p.innerPos);
});
</script>
</body>
</html>
